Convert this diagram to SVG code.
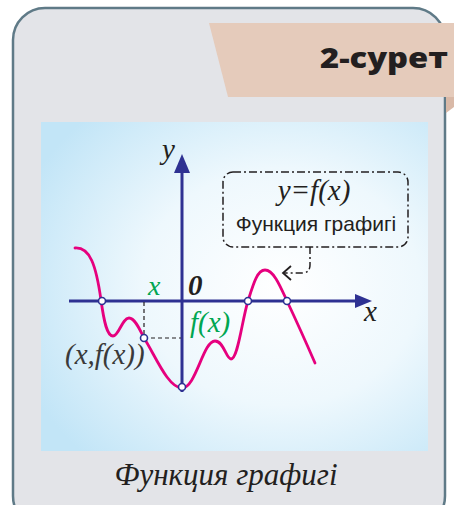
<svg xmlns="http://www.w3.org/2000/svg" width="454" height="505" viewBox="0 0 454 505">
<defs>
<radialGradient id="bg" cx="0.62" cy="0.5" r="0.72">
<stop offset="0" stop-color="#ffffff"/>
<stop offset="0.5" stop-color="#eef8fd"/>
<stop offset="1" stop-color="#c2e5f7"/>
</radialGradient>
<style>
.ax{stroke:#2e3192;stroke-width:3;fill:none}
.axh{fill:#2e3192}
.curve{stroke:#e6007e;stroke-width:2.8;fill:none;stroke-linecap:round;stroke-linejoin:round}
.dot{fill:#fff;stroke:#2e3192;stroke-width:1.6}
.dash{stroke:#231f20;stroke-width:1.2;stroke-dasharray:4 3;fill:none}
.it{font-family:"Liberation Serif","DejaVu Serif",serif;font-style:italic}
.g{fill:#00a651}
</style>
</defs>
<g id="card">
<rect x="13" y="8" width="432" height="520" rx="32" fill="#e3e4e8" stroke="#5f7a87" stroke-width="2.5"/>
</g>
<g id="tab">
<polygon points="446,97 454,97 454,107 446,113" fill="#d9b9a7"/>
<polygon points="209,23 454,23 454,97 228,97" fill="#e5cbbb"/>
<text x="320" y="68" textLength="128" lengthAdjust="spacingAndGlyphs" font-family="'Open Sans','Noto Sans',sans-serif" font-weight="800" font-size="29" fill="#231f20">2-сурет</text>
</g>
<g id="panel">
<rect x="41" y="122" width="387" height="329" fill="url(#bg)"/>
</g>
<g id="axes">
<line class="ax" x1="69" y1="301" x2="358" y2="301"/>
<polygon class="axh" points="372,301 355,294 355,308"/>
<line class="ax" x1="182" y1="392" x2="182" y2="170"/>
<polygon class="axh" points="182,154 174,173 190,173"/>
<text class="it" x="162" y="159" font-size="29" fill="#231f20">y</text>
<text class="it" x="364" y="321" font-size="29" fill="#231f20">x</text>
<text class="it" x="188" y="295" font-size="29" font-weight="bold" fill="#231f20">0</text>
</g>
<g id="connectors">
<line class="dash" x1="144" y1="302" x2="144" y2="338"/>
<line class="dash" x1="144" y1="338" x2="181" y2="338"/>
<path d="M310,247 V265 Q310,273 302,273 H284" fill="none" stroke="#231f20" stroke-width="1.5" stroke-dasharray="7 3 2 3"/>
<polyline points="291,266 283,273 291,280" fill="none" stroke="#231f20" stroke-width="1.8"/>
</g>
<g id="graph">
<path class="curve" d="M75,248 C90,247 96,265 101,300 C104,322 107,336 113,336 C119,336 122,318 129,318 C135,318 140,330 144,338 C155,355 168,388 182,388 C196,388 203,341 215,341 C224,341 226,359 231,359 C238,359 242,320 248,301 C253,285 257,270 265,270 C274,270 281,288 287,301 C295,318 305,340 315,363"/>
<circle class="dot" cx="102" cy="301" r="3.5"/>
<circle class="dot" cx="144" cy="338" r="3.5"/>
<circle class="dot" cx="182" cy="387" r="3.5"/>
<circle class="dot" cx="248" cy="301" r="3.5"/>
<circle class="dot" cx="287" cy="301" r="3.5"/>
<text class="it g" x="148" y="295" font-size="28">x</text>
<text class="it g" x="190" y="332" font-size="29">f(x)</text>
<text class="it" x="65" y="364" font-size="29" fill="#3a3a3a">(x,f(x))</text>
</g>
<g id="callout">
<rect x="223" y="172" width="185" height="75" rx="10" fill="none" stroke="#231f20" stroke-width="1.5" stroke-dasharray="8 3 2 3"/>
<text class="it" x="314" y="200" text-anchor="middle" font-size="29" fill="#231f20">y=f(x)</text>
<text x="316" y="231" text-anchor="middle" font-family="'Liberation Sans',Arial,sans-serif" font-size="21" fill="#231f20">Функция графигі</text>
</g>
<g id="caption">
<text class="it" x="226" y="485" text-anchor="middle" font-size="31" fill="#231f20">Функция графигі</text>
</g>
</svg>
